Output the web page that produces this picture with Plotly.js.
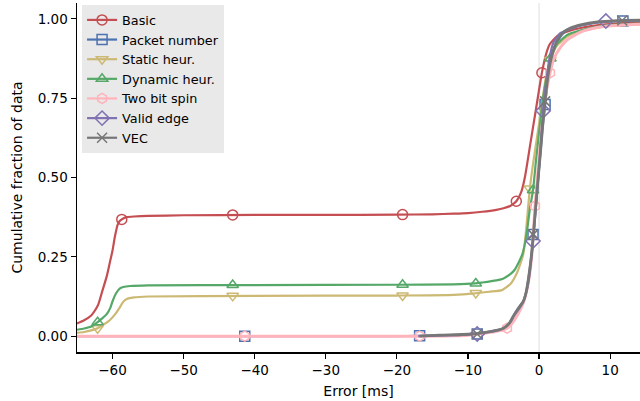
<!DOCTYPE html>
<html>
<head>
<meta charset="utf-8">
<script src="https://cdn.plot.ly/plotly-3.0.1.min.js"></script>
<style>html,body{margin:0;padding:0;background:#fff;}#chart{width:640px;height:401px;}</style>
</head>
<body>
<div id="chart"></div>
<script>
// ---- data ----
const seriesNames = ["Basic", "Packet number", "Static heur.", "Dynamic heur.", "Two bit spin", "Valid edge", "VEC"];

const basicX = [-65, -64, -63, -62.5, -62, -61.4, -60.8, -60.4, -60, -59.7, -59.3, -59, -58.5, -58, -57, -55, -50, -40, -30, -20, -15, -12, -10, -8, -6, -5, -4, -3.2, -2.5, -2, -1.2, -0.4, 0.4, 1, 1.5, 2.5, 4, 6, 9, 12, 14.2];
const basicY = [0.04, 0.05, 0.065, 0.08, 0.10, 0.145, 0.19, 0.23, 0.27, 0.31, 0.35, 0.363, 0.371, 0.375, 0.377, 0.379, 0.381, 0.382, 0.382, 0.383, 0.384, 0.386, 0.388, 0.392, 0.398, 0.403, 0.411, 0.425, 0.455, 0.5, 0.61, 0.72, 0.83, 0.89, 0.92, 0.945, 0.96, 0.972, 0.982, 0.987, 0.99];
const basicMarkX = [-58.7, -43.1, -19.2, -3.2, 0.4];
const basicMarkY = [0.368, 0.382, 0.383, 0.425, 0.83];

const packetX = [-65, -20, -17, -14, -10, -8, -6, -5, -4.2, -3.7, -3, -2.2, -1.8, -1.5, -1.2, -1, -0.8, -0.5, -0.2, 0.2, 0.5, 0.85, 1.2, 1.6, 2, 2.5, 3.4, 4.5, 6, 8, 10, 12, 14.2];
const packetY = [0, 0, 0.001, 0.003, 0.006, 0.01, 0.018, 0.025, 0.04, 0.06, 0.085, 0.11, 0.14, 0.18, 0.23, 0.27, 0.32, 0.4, 0.48, 0.58, 0.66, 0.73, 0.8, 0.86, 0.9, 0.925, 0.955, 0.97, 0.98, 0.988, 0.992, 0.994, 0.995];
const packetMarkX = [-41.4, -16.8, -8.7, -0.85, 0.85, 11.8];
const packetMarkY = [0, 0.001, 0.007, 0.32, 0.73, 0.993];

const staticX = [-65, -64, -63, -62.1, -61, -60.4, -59.6, -59, -58.5, -58, -57, -55, -40, -20, -12, -9, -7, -5.2, -4, -3.1, -2.6, -2.2, -1.8, -1.3, -0.8, 0, 0.5, 1, 1.6, 2.5, 4, 6, 9, 14.2];
const staticY = [0.01, 0.013, 0.018, 0.025, 0.04, 0.05, 0.07, 0.09, 0.108, 0.117, 0.122, 0.125, 0.127, 0.128, 0.13, 0.135, 0.14, 0.145, 0.165, 0.2, 0.23, 0.26, 0.34, 0.465, 0.55, 0.67, 0.75, 0.82, 0.87, 0.915, 0.945, 0.962, 0.975, 0.983];
const staticMarkX = [-62.1, -43.1, -19.2, -8.9, -1.3, 1.6];
const staticMarkY = [0.025, 0.127, 0.128, 0.136, 0.465, 0.87];

const dynamicX = [-65, -64, -63, -62.1, -61.5, -60.8, -60.3, -60, -59.5, -59, -58.5, -57.5, -55, -40, -20, -12, -9, -8, -6, -5, -4, -3.4, -2.8, -2.4, -2, -1.7, -1.3, -0.85, -0.4, 0, 0.5, 1, 1.6, 2.5, 4, 6, 9, 14.2];
const dynamicY = [0.02, 0.024, 0.03, 0.044, 0.055, 0.07, 0.09, 0.11, 0.135, 0.15, 0.155, 0.158, 0.16, 0.161, 0.162, 0.163, 0.166, 0.169, 0.176, 0.182, 0.196, 0.21, 0.235, 0.255, 0.29, 0.33, 0.4, 0.46, 0.56, 0.64, 0.74, 0.81, 0.875, 0.92, 0.95, 0.965, 0.978, 0.985];
const dynamicMarkX = [-62.1, -43.1, -19.2, -8.9, -0.85, 1.6];
const dynamicMarkY = [0.044, 0.161, 0.162, 0.166, 0.46, 0.875];

const twobitX = [-65, -17, -10, -8, -6, -4.5, -3.5, -2.5, -2, -1.5, -1, -0.56, 0, 0.5, 1, 1.55, 2, 3, 4, 6, 8, 10, 14.2];
const twobitY = [0, 0, 0.003, 0.008, 0.015, 0.025, 0.05, 0.09, 0.12, 0.17, 0.26, 0.41, 0.56, 0.68, 0.77, 0.83, 0.87, 0.91, 0.935, 0.96, 0.972, 0.978, 0.983];
const twobitMarkX = [-41.4, -16.8, -4.5, -0.56, 1.55];
const twobitMarkY = [0, 0, 0.025, 0.41, 0.83];

const validX = [-17, -10, -8, -6, -5, -4, -3.5, -3, -2.2, -1.5, -1.2, -0.85, -0.5, 0, 0.56, 1, 1.5, 2, 3, 4, 6, 9.4, 12, 14.2];
const validY = [0, 0.005, 0.01, 0.017, 0.025, 0.045, 0.065, 0.08, 0.11, 0.17, 0.22, 0.30, 0.39, 0.53, 0.71, 0.8, 0.88, 0.925, 0.955, 0.965, 0.98, 0.992, 0.994, 0.995];
const validMarkX = [-8.7, -0.85, 0.56, 9.4];
const validMarkY = [0.007, 0.30, 0.71, 0.993];

const vecX = [-16.8, -14, -10, -8, -6, -5, -4.2, -3.7, -3, -2.2, -1.8, -1.5, -1.2, -1, -0.8, -0.5, -0.2, 0.2, 0.5, 0.85, 1.2, 1.6, 2, 2.5, 3.4, 4.5, 6, 8, 10, 12, 14.2];
const vecY = [0, 0.003, 0.006, 0.01, 0.018, 0.025, 0.04, 0.06, 0.085, 0.11, 0.14, 0.18, 0.23, 0.27, 0.32, 0.4, 0.48, 0.58, 0.66, 0.74, 0.81, 0.865, 0.9, 0.93, 0.958, 0.972, 0.982, 0.99, 0.993, 0.995, 0.996];
const vecMarkX = [-8.7, -0.85, 0.85, 11.7];
const vecMarkY = [0.007, 0.32, 0.74, 0.995];

// ---- styles ----
const colors = ["#C44E52", "#4C72B0", "#CCB974", "#55A868", "#FFB3BA", "#8172B2", "#777777"];
const symbols = ["circle-open", "square-open", "triangle-down-open", "triangle-up-open", "hexagon-open", "diamond-open", "x-thin-open"];
const lineWidths = [2.2, 2.2, 2.2, 2.2, 3, 2.2, 2.8];

const lineXs = [basicX, packetX, staticX, dynamicX, twobitX, validX, vecX];
const lineYs = [basicY, packetY, staticY, dynamicY, twobitY, validY, vecY];
const markXs = [basicMarkX, packetMarkX, staticMarkX, dynamicMarkX, twobitMarkX, validMarkX, vecMarkX];
const markYs = [basicMarkY, packetMarkY, staticMarkY, dynamicMarkY, twobitMarkY, validMarkY, vecMarkY];

function withGaps(arr) {
  const out = [];
  arr.forEach((v, i) => { if (i > 0) out.push(null); out.push(v); });
  return out;
}

const traces = [];
seriesNames.forEach((name, i) => {
  traces.push({
    x: lineXs[i], y: lineYs[i], type: "scatter", mode: "lines",
    line: {color: colors[i], width: lineWidths[i], shape: "spline", smoothing: 0.5},
    showlegend: false, legendgroup: name, hoverinfo: "skip"
  });
  traces.push({
    x: withGaps(markXs[i]), y: withGaps(markYs[i]), type: "scatter", mode: "lines+markers",
    name: name, legendgroup: name, connectgaps: false,
    line: {color: colors[i], width: 2.2},
    marker: {symbol: symbols[i], size: i === 5 ? 11 : 10, color: colors[i], line: {color: colors[i], width: 1.5}}
  });
});

const layout = {
  width: 640, height: 401,
  margin: {l: 77, r: 0, t: 3, b: 49, pad: 0},
  paper_bgcolor: "#ffffff", plot_bgcolor: "#ffffff",
  font: {family: "DejaVu Sans", size: 13.5, color: "#000"},
  showlegend: true,
  legend: {
    x: 0.009, y: 0.994, xanchor: "left", yanchor: "top",
    bgcolor: "#e9e9e9", borderwidth: 0,
    font: {family: "DejaVu Sans", size: 12.8, color: "#000"},
    tracegroupgap: 0
  },
  xaxis: {
    range: [-65, 14.2], showgrid: false, zeroline: false,
    showline: true, linecolor: "#000", linewidth: 1.5, mirror: false,
    ticks: "outside", ticklen: 5, tickwidth: 1.2, tickcolor: "#000",
    tickvals: [-60, -50, -40, -30, -20, -10, 0, 10],
    tickfont: {size: 13.5},
    title: {text: "Error [ms]", font: {size: 14}, standoff: 9}
  },
  yaxis: {
    range: [-0.05, 1.05], showgrid: false, zeroline: false,
    showline: true, linecolor: "#000", linewidth: 1.5, mirror: false,
    ticks: "outside", ticklen: 5, tickwidth: 1.2, tickcolor: "#000",
    tickvals: [0, 0.25, 0.5, 0.75, 1], tickformat: ".2f",
    tickfont: {size: 13.5},
    title: {text: "Cumulative fraction of data", font: {size: 14}, standoff: 12}
  },
  shapes: [{
    type: "line", layer: "below", xref: "x", yref: "paper",
    x0: 0, x1: 0, y0: 0, y1: 1,
    line: {color: "#e4e4e4", width: 1.2}
  }]
};

Plotly.newPlot("chart", traces, layout, {staticPlot: true, displayModeBar: false});
</script>
</body>
</html>
